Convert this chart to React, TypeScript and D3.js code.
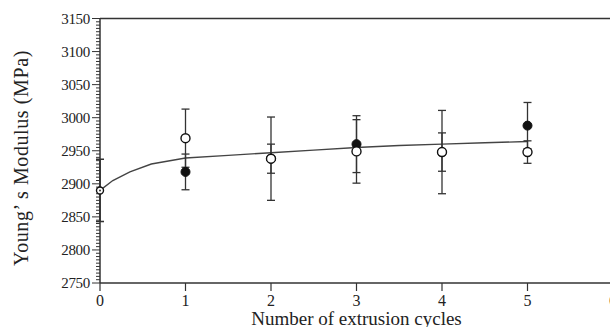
import * as d3 from "d3";
import { useEffect, useRef } from "react";

const cycles = [0, 1, 2, 3, 4, 5];
const openMean = [2890, 2969, 2938, 2949, 2948, 2948];
const openErr = [47, 44, 63, 48, 63, 17];
const filledMean = [2890, 2918, 2938, 2960, 2948, 2988];
const filledErr = [47, 27, 22, 43, 29, 35];

const fitX = [0, 0.15, 0.35, 0.6, 1, 1.5, 2, 2.5, 3, 3.5, 4, 4.5, 5];
const fitY = [2890, 2905, 2918, 2930, 2939, 2943, 2947, 2951, 2955, 2958, 2960, 2962, 2964];

const xTicks = [0, 1, 2, 3, 4, 5, 6];
const yTicks = [2750, 2800, 2850, 2900, 2950, 3000, 3050, 3100, 3150];

const App = () => {
  const ref = useRef<SVGSVGElement | null>(null);

  useEffect(() => {
    const width = 610;
    const height = 327;
    const font = "'Liberation Serif', 'Times New Roman', serif";
    const axisColor = "#333";

    const x = d3.scaleLinear().domain([0, 6]).range([100, 613]);
    const y = d3.scaleLinear().domain([2750, 3150]).range([283, 18.5]);

    const svg = d3.select(ref.current);
    svg.selectAll("*").remove();
    svg.attr("width", width).attr("height", height);

    svg.append("rect").attr("width", width).attr("height", height).attr("fill", "#fff");

    const g = svg.append("g");

    // fitted curve
    const line = d3.line<number>()
      .x((_, i) => x(fitX[i]))
      .y(d => y(d));
    g.append("path")
      .attr("d", line(fitY) as string)
      .attr("fill", "none")
      .attr("stroke", "#444")
      .attr("stroke-width", 1.4);

    // error bars
    const drawErr = (means: number[], errs: number[]) => {
      cycles.forEach((c, i) => {
        const cx = x(c);
        const top = y(means[i] + errs[i]);
        const bot = y(means[i] - errs[i]);
        g.append("line")
          .attr("x1", cx).attr("x2", cx)
          .attr("y1", top).attr("y2", bot)
          .attr("stroke", "#333").attr("stroke-width", 1.3);
        [top, bot].forEach(yy => {
          g.append("line")
            .attr("x1", cx - 4).attr("x2", cx + 4)
            .attr("y1", yy).attr("y2", yy)
            .attr("stroke", "#333").attr("stroke-width", 1.3);
        });
      });
    };
    drawErr(filledMean, filledErr);
    drawErr(openMean, openErr);

    // axes
    g.append("line")
      .attr("x1", x(0)).attr("x2", width)
      .attr("y1", y(3150)).attr("y2", y(3150))
      .attr("stroke", axisColor).attr("stroke-width", 1.5);
    g.append("line")
      .attr("x1", x(0)).attr("x2", width)
      .attr("y1", y(2750)).attr("y2", y(2750))
      .attr("stroke", axisColor).attr("stroke-width", 1.5);
    g.append("line")
      .attr("x1", x(0)).attr("x2", x(0))
      .attr("y1", y(3150)).attr("y2", y(2750))
      .attr("stroke", axisColor).attr("stroke-width", 1.5);

    // y ticks
    d3.range(2750, 3151, 5).forEach(v => {
      const major = v % 50 === 0;
      g.append("line")
        .attr("x1", x(0) - (major ? 8 : 4)).attr("x2", x(0))
        .attr("y1", y(v)).attr("y2", y(v))
        .attr("stroke", axisColor).attr("stroke-width", 1);
    });
    yTicks.forEach(v => {
      g.append("text")
        .attr("x", 90)
        .attr("y", y(v))
        .attr("dy", "0.35em")
        .attr("text-anchor", "end")
        .attr("font-family", font)
        .attr("font-size", 15)
        .attr("letter-spacing", -0.3)
        .attr("fill", "#222")
        .text(v);
    });

    // x ticks
    xTicks.forEach(v => {
      g.append("line")
        .attr("x1", x(v)).attr("x2", x(v))
        .attr("y1", y(2750)).attr("y2", y(2750) + 8)
        .attr("stroke", axisColor).attr("stroke-width", 1.2);
      g.append("text")
        .attr("x", x(v))
        .attr("y", 306)
        .attr("text-anchor", "middle")
        .attr("font-family", font)
        .attr("font-size", 16)
        .attr("fill", "#222")
        .text(v);
    });

    // markers
    cycles.forEach((c, i) => {
      if (c === 0) return;
      g.append("circle")
        .attr("cx", x(c)).attr("cy", y(filledMean[i]))
        .attr("r", 4.5)
        .attr("fill", "#111").attr("stroke", "#111");
    });
    cycles.forEach((c, i) => {
      g.append("circle")
        .attr("cx", x(c)).attr("cy", y(openMean[i]))
        .attr("r", c === 0 ? 3.5 : 4.5)
        .attr("fill", "#fff").attr("stroke", "#111").attr("stroke-width", 1.4);
      if (c === 0) {
        g.append("circle")
          .attr("cx", x(c)).attr("cy", y(openMean[i]))
          .attr("r", 1).attr("fill", "#333");
      }
    });

    // axis titles
    svg.append("text")
      .attr("x", x(3))
      .attr("y", 325)
      .attr("text-anchor", "middle")
      .attr("font-family", font)
      .attr("font-size", 19)
      .attr("fill", "#222")
      .text("Number of extrusion cycles");

    svg.append("text")
      .attr("transform", "translate(28,158) rotate(-90)")
      .attr("text-anchor", "middle")
      .attr("font-family", font)
      .attr("font-size", 20)
      .attr("letter-spacing", 0.6)
      .attr("fill", "#222")
      .text("Young\u2019 s Modulus (MPa)");
  }, []);

  return <svg ref={ref} style={{ position: "absolute", left: 0, top: 0, display: "block" }} />;
};

export default App;
